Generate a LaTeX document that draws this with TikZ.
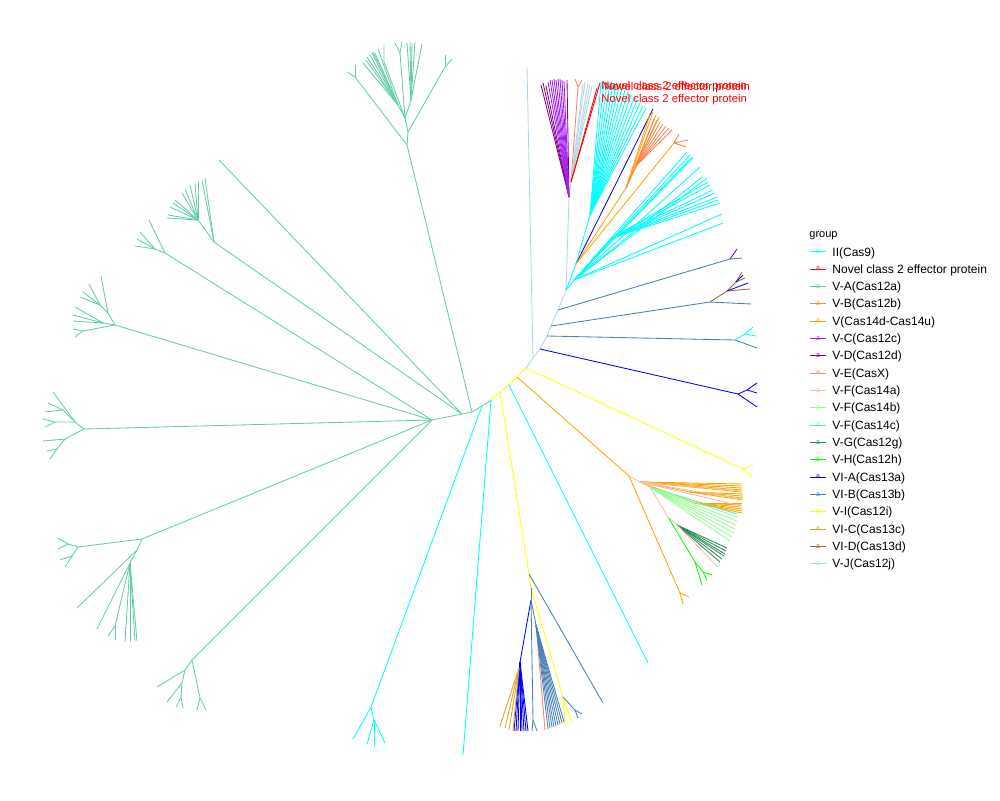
\documentclass[tikz,border=0pt]{standalone}
\usepackage{fontspec}
\setmainfont{Liberation Sans}
\definecolor{cII}{HTML}{00FFFF}
\definecolor{cNov}{HTML}{FF0000}
\definecolor{cVA}{HTML}{66CDAA}
\definecolor{cVB}{HTML}{FF7F50}
\definecolor{cV14}{HTML}{FFA500}
\definecolor{cVC}{HTML}{A020F0}
\definecolor{cVD}{HTML}{8B008B}
\definecolor{cVE}{HTML}{FA8072}
\definecolor{cVFa}{HTML}{F7BFA5}
\definecolor{cVFb}{HTML}{98FB98}
\definecolor{cVFc}{HTML}{5EE6A6}
\definecolor{cVG}{HTML}{2E8B57}
\definecolor{cVH}{HTML}{00FF00}
\definecolor{cVIA}{HTML}{0000FF}
\definecolor{cVIB}{HTML}{4682B4}
\definecolor{cVI}{HTML}{FFFF00}
\definecolor{cVIC}{HTML}{DAA520}
\definecolor{cVID}{HTML}{A0692A}
\definecolor{cVJ}{HTML}{ADD8E6}
\tikzset{
  gII/.style={draw=cII}, gNov/.style={draw=cNov}, gVA/.style={draw=cVA},
  gVB/.style={draw=cVB}, gV14/.style={draw=cV14}, gVC/.style={draw=cVC},
  gVD/.style={draw=cVD}, gVE/.style={draw=cVE}, gVFa/.style={draw=cVFa},
  gVFb/.style={draw=cVFb}, gVFc/.style={draw=cVFc}, gVG/.style={draw=cVG},
  gVH/.style={draw=cVH}, gVIA/.style={draw=cVIA}, gVIB/.style={draw=cVIB},
  gVI/.style={draw=cVI}, gVIC/.style={draw=cVIC}, gVID/.style={draw=cVID},
  gVJ/.style={draw=cVJ},
  novlab/.style={anchor=base west, inner sep=0pt, text=cNov, font=\fontsize{11.3}{13}\selectfont},
  legtxt/.style={anchor=base west, inner sep=0pt, font=\fontsize{12}{14}\selectfont},
  legkey/.style={inner sep=0pt, font=\fontsize{7}{7}\selectfont}
}
\begin{document}
\begin{tikzpicture}[x=1pt,y=-1pt,line width=0.85pt]
\useasboundingbox (0,0) rectangle (1000,800);
% ---------- backbone ----------
\coordinate (k0) at (566,290);
\coordinate (bs1) at (558,310);
\coordinate (bs2) at (551,326);
\coordinate (bs3) at (547,336);
\coordinate (bs4) at (540,349);
\coordinate (bj) at (533,358);
\coordinate (y1) at (526,368);
\coordinate (y2) at (517,377);
\coordinate (y3) at (509,385);
\coordinate (y4) at (500,392);
\coordinate (y5) at (491,400);
\coordinate (a1) at (482,406);
\coordinate (na) at (472,412);
\coordinate (q) at (462,414);
\coordinate (r) at (432,420);
\draw[gVJ] (k0) -- (bs1) -- (bs2) -- (bs3) -- (bs4) -- (bj) -- (y1);
\draw[gVI] (y1) -- (y2) -- (y3) -- (y4) -- (y5);
\draw[gVA] (y5) -- (a1) -- (na) -- (q) -- (r);
% ---------- top right cluster ----------
\coordinate (pv) at (569,197);
\coordinate (px) at (571,182);
\coordinate (k2) at (576,264);
\coordinate (k3) at (590,215);
\draw[gVJ] (k0) -- (pv) -- (px);
\draw[gII] (k0) -- (k2) -- (k3);
\foreach \x/\y in {541/85,543/83,546/86} \draw[gVD] (pv) -- (\x,\y);
\draw[gVD] (pv) -- (567,80);
\foreach \x/\y in {548/82,550/80,552/80,554/79,556/80,558/79,560/79,562/80,564/81} \draw[gVC] (pv) -- (\x,\y);
\coordinate (se) at (578,87);
\draw[gVE] (px) -- (se) -- (575,79); \draw[gVE] (se) -- (582,80);
\foreach \x/\y in {583/84,585/82,588/83,590/84,592/86} \draw[gVJ] (px) -- (\x,\y);
\draw[gNov] (px) -- (600,83);
\draw[gNov] (px) -- (597,88);
\foreach \x/\y in {601/82,604/82,607/83,610/83,613/84,616/85,619/86,622/88,625/90,628/92,631/95,634/98,637/100,640/103,643/106,646/108}
  \draw[gII] (k3) -- (\x,\y);
\draw[gVIA] (k2) -- (653,109);
\coordinate (or1) at (626,188);
\draw[gV14] (k2) -- (or1);
\foreach \x/\y in {650/114,653/112,656/115,659/117} \draw[gV14] (or1) -- (\x,\y);
\coordinate (or3) at (636,166);
\draw[gVB] (or1) -- (or3);
\foreach \x/\y in {654/119,657/120,660/122,663/124,666/126,669/128,672/130} \draw[gVB] (or3) -- (\x,\y);
\coordinate (or2) at (674,143);
\draw[gV14] (k2) -- (or2);
\draw[gVB] (or2) -- (679,134); \draw[gVB] (or2) -- (686,147); \draw[gVB] (or2) -- (688,140);
\coordinate (cl) at (574,280);
\coordinate (cl2) at (612,238);
\draw[gII] (k0) -- (cl) -- (cl2);
\foreach \x/\y in {687/152,690/155,692/157,693/158,700/167,702/177,707/178}
  \draw[gII] (cl) -- (\x,\y);
\foreach \x/\y in {708/182,710/185,713/190,715/193,717/197,718/200,720/203}
  \draw[gII] (cl2) -- (\x,\y);
\draw[gII] (cl) -- (722,214);
\draw[gII] (cl) -- (723,223);
% ---------- red labels ----------
\node[novlab] (nl1) at (601,89) {Novel class 2 effector protein};
\node[novlab] (nl2) at (604,90) {Novel class 2 effector protein};
\node[novlab] (nl3) at (601,102) {Novel class 2 effector protein};
% ---------- right side branches ----------
\coordinate (sb1) at (730,259);
\draw[gVIB] (bs1) -- (sb1) -- (742,258);
\draw[gVD] (sb1) -- (737,249);
\coordinate (sb2) at (710,302);
\coordinate (sd1) at (727,291);
\coordinate (sd2) at (736,282);
\draw[gVIB] (bs2) -- (sb2) -- (751,304);
\draw[gVID] (sb2) -- (sd1) -- (sd2) -- (742,272);
\draw[gVID] (sd2) -- (745,278);
\draw[gVID] (sd1) -- (750,289);
\draw[gVIA] (sd2) -- (743,275);
\draw[gVIA] (sd1) -- (748,283);
\coordinate (sb3) at (735,340);
\coordinate (sc3) at (745,334);
\draw[gVIB] (bs3) -- (sb3) -- (757,348);
\draw[gII] (sb3) -- (sc3) -- (753,327);
\draw[gII] (sc3) -- (756,336);
\coordinate (sb4) at (738,394);
\coordinate (sc4) at (747,390);
\draw[gVIA] (bs4) -- (sb4) -- (757,407);
\draw[gVIA] (sb4) -- (sc4) -- (757,383);
\draw[gVIA] (sc4) -- (757,393);
% V-J long branch
\draw[gVJ] (bj) -- (527,67);
% yellow branch right
\coordinate (yr) at (743,469);
\draw[gVI] (y1) -- (yr) -- (753,465);
\draw[gVI] (yr) -- (752,477);
% ---------- orange / V-F cluster ----------
\coordinate (o1) at (629,476);
\coordinate (o2) at (680,593);
\draw[gV14] (y2) -- (o1) -- (o2) -- (689,597);
\draw[gV14] (o2) -- (683,604);
\coordinate (f1) at (640,482);
\coordinate (f2) at (650,487);
\coordinate (f3) at (668,517);
\coordinate (f4) at (677,525);
\coordinate (f5) at (690,492);
\coordinate (f6) at (695,503);
\foreach \y in {484,486,488,490,492} \draw[gV14] (f1) -- (742,\y);
\draw[gV14] (f1) -- (f5);
\foreach \y in {494,496,498,500} \draw[gV14] (f5) -- (743,\y);
\draw[gV14] (f1) -- (f6);
\foreach \y in {503,505,507,509,511,513} \draw[gV14] (f6) -- (742,\y);
\foreach \y in {491,499,506} \draw[gVFa] (f1) -- (741,\y);
\draw[gVFc] (f2) -- (737,514);
\foreach \x/\y in {738/517,737/521,736/525,735/529,734/533,732/537,730/541} \draw[gVFb] (f2) -- (\x,\y);
\coordinate (h1) at (695,562);
\coordinate (h2) at (703,572);
\draw[gVH] (f3) -- (h1) -- (702,585);
\draw[gVH] (h1) -- (h2) -- (712,575);
\draw[gVH] (h2) -- (707,580);
\foreach \x/\y in {727/548,726/551,725/554,724/556,722/559,720/562} \draw[gVG] (f4) -- (\x,\y);
\draw[gVFa] (o1) -- (f1) -- (f2) -- (f3) -- (f4) -- (718,567);
% ---------- cyan leaves ----------
\draw[gII] (y3) -- (648,663);
\draw[gII] (y5) -- (463,755);
\coordinate (cb) at (371,707);
\coordinate (cb2) at (374,720);
\draw[gII] (a1) -- (cb) -- (353,739);
\draw[gII] (cb) -- (cb2) -- (367,744);
\draw[gII] (cb2) -- (374,746);
\draw[gII] (cb2) -- (385,743);
% ---------- bottom cluster ----------
\coordinate (yb1) at (529,574);
\coordinate (yb2) at (531,588);
\coordinate (yb3) at (563,697);
\coordinate (yb4) at (531,600);
\coordinate (sbb) at (575,710);
\draw[gVI] (y4) -- (yb1) -- (yb2) -- (yb3) -- (565,725);
\draw[gVI] (yb3) -- (572,723);
\draw[gVIB] (yb1) -- (603,703);
\draw[gVIB] (yb3) -- (sbb) -- (578,718);
\draw[gVIB] (sbb) -- (582,714);
\draw[gVIB] (yb2) -- (yb4);
\coordinate (ba) at (520,662);
\draw[gVIA] (yb4) -- (ba);
\foreach \x in {514,516,518,520,522,524,526,528} \draw[gVIA] (ba) -- (\x,731);
\coordinate (gc) at (519,668);
\foreach \x/\y in {500/726,505/728,509/730,513/731} \draw[gVIC] (gc) -- (\x,\y);
\coordinate (bt) at (533,720);
\draw[gVIB] (yb4) -- (bt) -- (532,731);
\draw[gVIB] (bt) -- (537,731);
\coordinate (bf) at (536,625);
\draw[gVIB] (yb4) -- (bf);
\draw[gVE] (bf) -- (545,730);
\foreach \x/\y in {548/729,550/728,552/727,554/727,556/726,558/725,560/724,562/723,564/722}
  \draw[gVIB] (bf) -- (\x,\y);
% ---------- left V-A clusters ----------
% top
\coordinate (t0) at (407,145);
\coordinate (t1) at (408,132);
\coordinate (t2) at (405,118);
\coordinate (t3) at (398,105);
\coordinate (t4) at (411,100);
\coordinate (tl) at (355,77);
\coordinate (tr) at (445,67);
\coordinate (tm) at (384,62);
\coordinate (tn) at (400,53);
\draw[gVA] (na) -- (t0) -- (t1) -- (t2) -- (t3);
\draw[gVA] (t2) -- (t4);
\draw[gVA] (t0) -- (tl) -- (347,72);
\draw[gVA] (tl) -- (355,65);
\draw[gVA] (t1) -- (tr) -- (452,59);
\draw[gVA] (tr) -- (445,55);
\foreach \x/\y in {363/63,366/60,367/57,370/55,372/53,373/52,375/53,378/49} \draw[gVA] (t3) -- (\x,\y);
\draw[gVA] (t2) -- (tm) -- (384,45);
\draw[gVA] (t2) -- (tn) -- (395,43);
\draw[gVA] (tn) -- (402,42);
\foreach \x/\y in {407/43,410/42,412/43,415/42,422/44} \draw[gVA] (t4) -- (\x,\y);
% single leaf
\draw[gVA] (q) -- (219,160);
% cluster 2
\coordinate (c2a) at (214,242);
\coordinate (c2s) at (198,220);
\draw[gVA] (q) -- (c2a) -- (205,178);
\draw[gVA] (c2a) -- (202,180);
\draw[gVA] (c2a) -- (c2s);
\foreach \x/\y in {198/182,195/184,190/185,185/189,182/193,175/200,173/203,170/207,168/215,167/218} \draw[gVA] (c2s) -- (\x,\y);
\coordinate (c2b) at (165,253);
\coordinate (c2c) at (155,249);
\draw[gVA] (r) -- (c2b) -- (149,220);
\draw[gVA] (c2b) -- (c2c);
\foreach \x/\y in {140/232,137/239,135/246} \draw[gVA] (c2c) -- (\x,\y);
% cluster 3
\coordinate (c3) at (115,325);
\coordinate (c3a) at (108,313);
\coordinate (c3b) at (100,305);
\coordinate (c3c) at (103,323);
\coordinate (c3d) at (83,331);
\draw[gVA] (r) -- (c3) -- (c3a) -- (101,276);
\draw[gVA] (c3a) -- (c3b);
\foreach \x/\y in {89/284,83/292,80/297} \draw[gVA] (c3b) -- (\x,\y);
\draw[gVA] (c3) -- (c3c);
\foreach \x/\y in {75/307,73/315,73/321} \draw[gVA] (c3c) -- (\x,\y);
\draw[gVA] (c3) -- (c3d) -- (73,329);
\draw[gVA] (c3d) -- (75,337);
% cluster 4
\coordinate (c4) at (84,429);
\coordinate (c4a) at (75,422);
\coordinate (c4b) at (63,410);
\coordinate (c4c) at (55,422);
\coordinate (c4d) at (65,439);
\coordinate (c4e) at (57,449);
\draw[gVA] (r) -- (c4) -- (c4a) -- (53,392);
\draw[gVA] (c4a) -- (c4b) -- (48,403);
\draw[gVA] (c4b) -- (45,412);
\draw[gVA] (c4a) -- (c4c) -- (43,419);
\draw[gVA] (c4c) -- (45,427);
\draw[gVA] (c4) -- (c4d) -- (43,441);
\draw[gVA] (c4d) -- (c4e) -- (47,451);
\draw[gVA] (c4e) -- (50,459);
% cluster 5
\coordinate (c5) at (142,539);
\coordinate (c5a) at (78,547);
\coordinate (c5b) at (68,544);
\coordinate (c5c) at (72,556);
\coordinate (c5d) at (137,550);
\coordinate (c5e) at (130,563);
\coordinate (c5f) at (115,626);
\draw[gVA] (r) -- (c5) -- (c5a) -- (c5b) -- (58,538);
\draw[gVA] (c5b) -- (58,549);
\draw[gVA] (c5a) -- (c5c) -- (60,560);
\draw[gVA] (c5c) -- (65,567);
\draw[gVA] (c5) -- (c5d) -- (77,608);
\draw[gVA] (c5d) -- (c5e) -- (97,629);
\draw[gVA] (c5e) -- (c5f) -- (108,636);
\draw[gVA] (c5f) -- (115,640);
\foreach \x/\y in {125/642,130/642,135/641,137/641} \draw[gVA] (c5e) -- (\x,\y);
% cluster 6
\coordinate (c6) at (192,660);
\coordinate (c6a) at (185,670);
\coordinate (c6b) at (182,683);
\coordinate (c6c) at (181,697);
\coordinate (c6d) at (200,698);
\draw[gVA] (r) -- (c6) -- (c6a) -- (157,687);
\draw[gVA] (c6a) -- (c6b) -- (167,702);
\draw[gVA] (c6b) -- (c6c) -- (176,707);
\draw[gVA] (c6c) -- (183,708);
\draw[gVA] (c6) -- (c6d) -- (197,710);
\draw[gVA] (c6d) -- (206,710);
% ---------- legend ----------
\node[anchor=base west, inner sep=0pt, font=\fontsize{11}{13}\selectfont] (gtitle) at (809,237) {group};
\foreach \i/\c/\t in {1/cII/II(Cas9), 2/cNov/Novel class 2 effector protein, 3/cVA/V-A(Cas12a),
  4/cVB/V-B(Cas12b), 5/cV14/V(Cas14d-Cas14u), 6/cVC/V-C(Cas12c), 7/cVD/V-D(Cas12d),
  8/cVE/V-E(CasX), 9/cVFa/V-F(Cas14a), 10/cVFb/V-F(Cas14b), 11/cVFc/V-F(Cas14c),
  12/cVG/V-G(Cas12g), 13/cVH/V-H(Cas12h), 14/cVIA/VI-A(Cas13a), 15/cVIB/VI-B(Cas13b),
  16/cVI/V-I(Cas12i), 17/cVIC/VI-C(Cas13c), 18/cVID/VI-D(Cas13d), 19/cVJ/V-J(Cas12j)} {
  \pgfmathsetmacro{\yy}{251.7+(\i-1)*17.33}
  \draw[draw=\c, line width=0.9pt] (810,\yy) -- (826,\yy);
  \node[legkey, text=\c] (key\i) at (818,\yy) {a};
  \node[legtxt] (lab\i) at (832,\yy+4.3) {\t};
}
\end{tikzpicture}
\end{document}
